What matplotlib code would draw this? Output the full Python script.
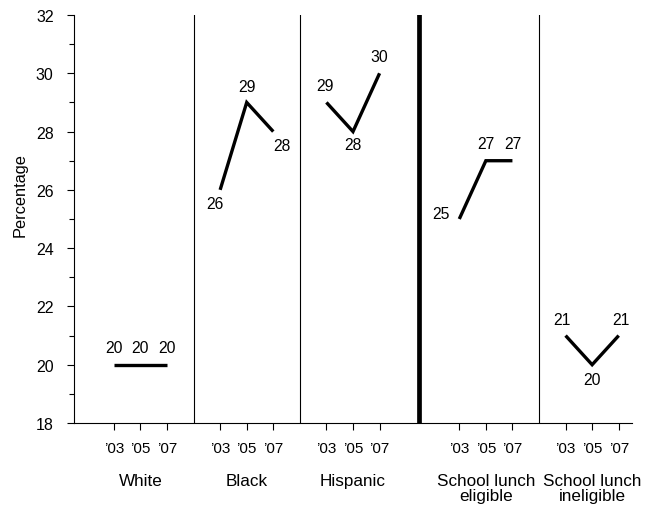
import numpy as np
import matplotlib.pyplot as plt

plt.rcParams['font.family'] = ['Liberation Sans', 'DejaVu Sans']

# data
groups = ["White", "Black", "Hispanic", "School lunch\neligible", "School lunch\nineligible"]
year_labels = ["\u201903", "\u201905", "\u201907"]
white = [20, 20, 20]
black = [26, 29, 28]
hispanic = [29, 28, 30]
lunch_eligible = [25, 27, 27]
lunch_ineligible = [21, 20, 21]
series = [white, black, hispanic, lunch_eligible, lunch_ineligible]

# layout (x units = one year step)
centers = [2.5, 6.5, 10.5, 15.5, 19.5]
separators = [4.5, 8.5, 17.5]
thick_sep = 13

# label offsets in pixels for each point (dx, dy)
offsets = [
    [(0, 17), (0, 17), (0, 17)],
    [(-5, -14), (0, 16), (9, -14)],
    [(-1, 17), (0, -13), (0, 17)],
    [(-18, 5), (0, 17), (0, 17)],
    [(-4, 16), (0, -15), (2, 16)],
]

fig = plt.figure(figsize=(6.48, 5.10), dpi=100)
ax = fig.add_axes([74 / 648, 1 - 424 / 510, 558 / 648, 408 / 510])

xticks = []
xlabels = []
for c, vals, offs in zip(centers, series, offsets):
    xs = np.array([c - 1, c, c + 1])
    ax.plot(xs, vals, color='black', lw=2.4, solid_capstyle='butt', solid_joinstyle='miter')
    for x, v, (dx, dy) in zip(xs, vals, offs):
        ax.annotate(str(v), (x, v), xytext=(dx, dy), textcoords='offset pixels',
                    ha='center', va='center', fontsize=11.3)
    xticks.extend(xs)
    xlabels.extend(year_labels)

for s in separators:
    ax.axvline(s, color='black', lw=0.8)
ax.axvline(thick_sep, color='black', lw=3.4)

ax.set_xlim(0, 21)
ax.set_ylim(18, 32)
ax.set_xticks(xticks)
ax.set_xticklabels(xlabels, fontsize=11)
ax.set_yticks(np.arange(18, 33, 2))
ax.set_yticks(np.arange(19, 32, 2), minor=True)
ax.tick_params(axis='x', length=5.2, pad=7.5, width=0.8)
ax.tick_params(axis='y', which='major', length=5.2, pad=9.5, width=0.8, labelsize=11.5)
ax.tick_params(axis='y', which='minor', length=3.6, width=0.8)
for side in ['top', 'right']:
    ax.spines[side].set_visible(False)
for side in ['left', 'bottom']:
    ax.spines[side].set_linewidth(0.8)

for c, g in zip(centers, groups):
    ax.text(c, -0.122, g, transform=ax.get_xaxis_transform(), ha='center', va='top',
            fontsize=12.3, linespacing=1.0)

ax.set_ylabel("Percentage", fontsize=11.8)
ax.yaxis.set_label_coords(-0.084, 0.561)

fig.savefig("out.png", dpi=100)
